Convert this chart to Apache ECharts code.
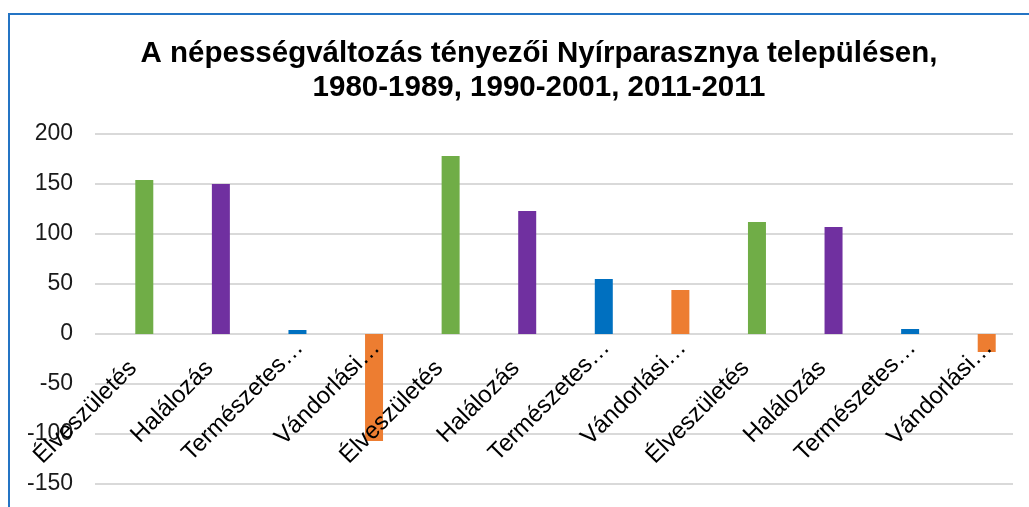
<!DOCTYPE html>
<html>
<head>
<meta charset="utf-8">
<script src="https://cdn.jsdelivr.net/npm/echarts@6/dist/echarts.min.js"></script>
<style>html,body{margin:0;padding:0;background:#fff;}#c{width:1029px;height:507px;}</style>
</head>
<body>
<div id="c"></div>
<script>
var titleLines = ['A népességváltozás tényezői Nyírparasznya településen,', '1980-1989, 1990-2001, 2011-2011'];
var categories = ['Élveszületés', 'Halálozás', 'Természetes…', 'Vándorlási…',
                  'Élveszületés', 'Halálozás', 'Természetes…', 'Vándorlási…',
                  'Élveszületés', 'Halálozás', 'Természetes…', 'Vándorlási…'];
var values = [154, 150, 4, -107, 178, 123, 55, 44, 112, 107, 5, -18];
var barColors = ['#70AD47', '#7030A0', '#0070C0', '#ED7D31'];
var yMin = -150, yMax = 200, yStep = 50;

var plotTop = 134, plotHeight = 350;
// place category labels at the zero line (as Excel does), derived from the value scale
var zeroOffset = -(0 - yMin) / (yMax - yMin) * plotHeight;

var labelFont = {fontFamily: 'Liberation Sans', fontSize: 24, color: '#000'};

var chart = echarts.init(document.getElementById('c'), null, {renderer: 'canvas'});
chart.setOption({
  animation: false,
  backgroundColor: '#fff',
  title: {
    text: titleLines.join('\n'),
    left: 539,
    textAlign: 'center',
    top: 37,
    padding: 0,
    textStyle: {fontFamily: 'Liberation Sans', fontWeight: 'bold', fontSize: 29.5, lineHeight: 34, color: '#000'}
  },
  graphic: [{
    type: 'rect', shape: {x: 9, y: 14, width: 1200, height: 700},
    style: {fill: 'none', stroke: '#2474C4', lineWidth: 2}, silent: true, z: 100
  }],
  grid: [
    {left: 95, top: plotTop, width: 918, height: plotHeight, outerBoundsMode: 'none', containLabel: false},
    {left: 106, top: plotTop, width: 919, height: plotHeight, outerBoundsMode: 'none', containLabel: false}
  ],
  xAxis: [
    {gridIndex: 0, type: 'category', data: categories, show: false},
    {gridIndex: 1, type: 'category', data: categories, position: 'bottom', offset: zeroOffset, z: 5,
     axisLine: {show: false, onZero: false}, axisTick: {show: false},
     axisLabel: {rotate: 45, interval: 0, margin: 8,
                 fontFamily: 'Liberation Sans', fontSize: 24, color: '#000',
                 formatter: function (v) {
                   return (v.slice(-1) === '…' ? '{e|' : '{n|') + v + '}';
                 },
                 rich: {
                   n: Object.assign({padding: [16, 24, 0, 0]}, labelFont),
                   e: Object.assign({padding: [6, 0, 0, 0]}, labelFont)
                 }}}
  ],
  yAxis: [
    {gridIndex: 0, type: 'value', min: yMin, max: yMax, interval: yStep,
     axisLine: {show: false}, axisTick: {show: false},
     axisLabel: {margin: 22, fontFamily: 'Liberation Sans', fontSize: 23, color: '#1a1a1a'},
     splitLine: {lineStyle: {color: '#d9d9d9', width: 2}}},
    {gridIndex: 1, type: 'value', min: yMin, max: yMax, interval: yStep,
     axisLine: {show: false}, axisTick: {show: false}, axisLabel: {show: false},
     splitLine: {show: false}}
  ],
  series: [{
    type: 'bar', xAxisIndex: 1, yAxisIndex: 1, barWidth: 18, z: 2,
    data: values.map(function (v, i) {
      return {value: v, itemStyle: {color: barColors[i % 4]}};
    })
  }]
});
</script>
</body>
</html>
